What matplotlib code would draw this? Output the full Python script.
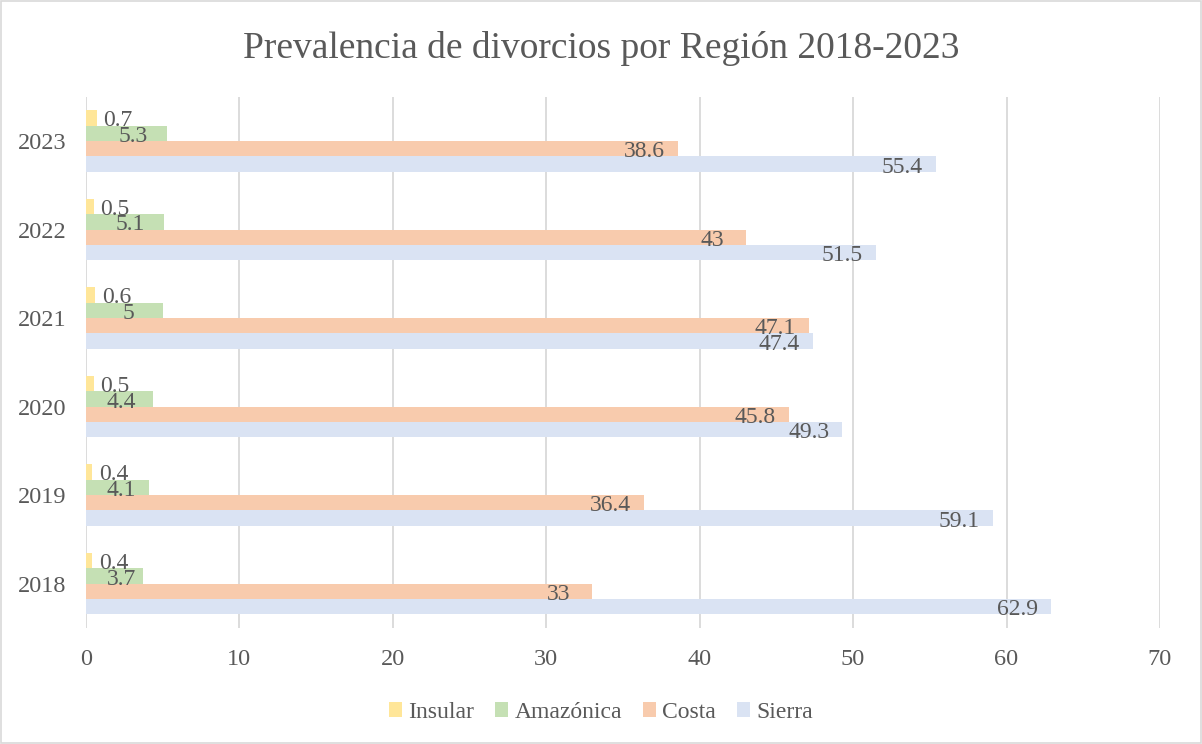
import matplotlib
matplotlib.use("Agg")
import matplotlib.pyplot as plt
from matplotlib.patches import Rectangle
import numpy as np

years = ["2018", "2019", "2020", "2021", "2022", "2023"]
series_names = ["Insular", "Amazónica", "Costa", "Sierra"]
insular = [0.4, 0.4, 0.5, 0.6, 0.5, 0.7]
amazonica = [3.7, 4.1, 4.4, 5.0, 5.1, 5.3]
costa = [33, 36.4, 45.8, 47.1, 43, 38.6]
sierra = [62.9, 59.1, 49.3, 47.4, 51.5, 55.4]
colors = ["#FFE699", "#C5E0B4", "#F8CBAD", "#DAE3F3"]
xticks = [0, 10, 20, 30, 40, 50, 60, 70]

plt.rcParams['font.family'] = ['Liberation Serif', 'DejaVu Serif']
text_color = "#595959"

fig = plt.figure(figsize=(12.02, 7.44), dpi=100)
ax = fig.add_axes([0.0715, 0.156, 0.8935, 0.714])

y = np.arange(len(years))
h = 0.173
offsets = [1.5 * h, 0.5 * h, -0.5 * h, -1.5 * h]
data = [insular, amazonica, costa, sierra]

for vals, off, col, name in zip(data, offsets, colors, series_names):
    ax.barh(y + off, vals, height=h, color=col, label=name, zorder=2)
    for yi, v in zip(y, vals):
        lbl = f"{v:g}"
        if name == "Insular":
            ax.text(v + 0.45, yi + off - 0.03, lbl, ha='left', va='center', fontsize=17,
                    color=text_color, zorder=3)
        else:
            xc = max(v - 2.2, 2.3)
            ax.text(xc, yi + off - 0.035, lbl, ha='center', va='center', fontsize=17,
                    color=text_color, zorder=3)

ax.set_xlim(0, 70)
ax.set_ylim(-0.5, 5.5)
ax.set_xticks(xticks)
ax.set_xticklabels([str(t) for t in xticks])
ax.set_yticks(y)
ax.set_yticklabels(years)
ax.tick_params(axis='both', length=0, labelsize=17.5, labelcolor=text_color)
ax.tick_params(axis='x', pad=15)
ax.tick_params(axis='y', pad=14)
ax.grid(axis='x', color="#D9D9D9", linewidth=1.3, zorder=0)
ax.set_axisbelow(True)
for s in ax.spines.values():
    s.set_visible(False)

fig.suptitle("Prevalencia de divorcios por Región 2018-2023", y=0.958, fontsize=27,
             color=text_color)

leg = fig.legend(loc='lower center', bbox_to_anchor=(0.5, 0.0), ncol=4, frameon=False,
                 fontsize=17, labelcolor=text_color, handlelength=0.55, handleheight=0.55,
                 handletextpad=0.25, columnspacing=0.9)

fig.patches.append(Rectangle((0.001, 0.001), 0.998, 0.998, transform=fig.transFigure,
                             fill=False, edgecolor="#D9D9D9", linewidth=1.2))

fig.savefig("out.png", dpi=100)
